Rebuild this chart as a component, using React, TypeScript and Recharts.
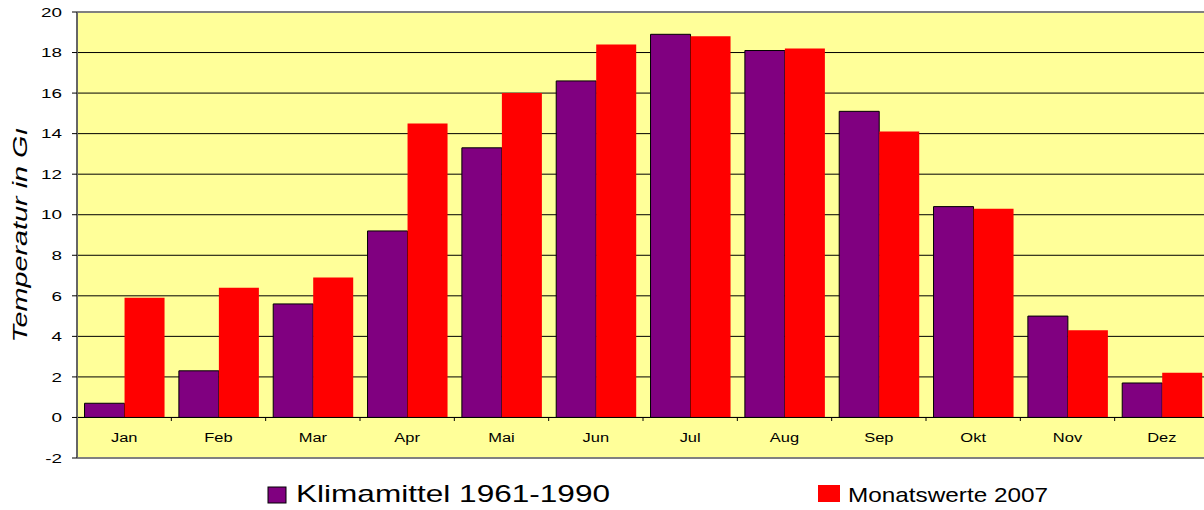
import React from 'react';
import { BarChart, Bar, XAxis, YAxis, CartesianGrid, ReferenceLine, Legend } from 'recharts';

const months = ['Jan', 'Feb', 'Mar', 'Apr', 'Mai', 'Jun', 'Jul', 'Aug', 'Sep', 'Okt', 'Nov', 'Dez'];
const klimamittel = [0.7, 2.3, 5.6, 9.2, 13.3, 16.6, 18.9, 18.1, 15.1, 10.4, 5.0, 1.7];
const monatswerte2007 = [5.9, 6.4, 6.9, 14.5, 16.0, 18.4, 18.8, 18.2, 14.1, 10.3, 4.3, 2.2];
const yTicks = [-2, 0, 2, 4, 6, 8, 10, 12, 14, 16, 18, 20];
const seriesNames = ['Klimamittel 1961-1990', 'Monatswerte 2007'];
const yLabel = 'Temperatur in Gı';

const data = months.map((m, i) => ({
  month: m,
  klima: klimamittel[i],
  monat: monatswerte2007[i],
}));

const FONT = '"Liberation Sans", Arial, Helvetica, sans-serif';

const YTick = (props: any) => {
  const { x, y, payload } = props;
  return (
    <text
      x={0}
      y={0}
      dy="0.36em"
      transform={`translate(${x},${y}) scale(1.45,1)`}
      textAnchor="end"
      fontSize={13}
      fontFamily={FONT}
      fill="#000"
    >
      {payload.value}
    </text>
  );
};

const XTick = (props: any) => {
  const { x, y, payload, index, width, visibleTicksCount } = props;
  const zeroY = y - 41;
  let off = payload && payload.offset;
  if (!off) {
    const n = visibleTicksCount || months.length;
    off = width ? width / n / 2 : 47;
  }
  return (
    <g>
      <text
        x={0}
        y={0}
        transform={`translate(${x},${y - 16}) scale(1.22,1)`}
        textAnchor="middle"
        fontSize={13.5}
        fontFamily={FONT}
        fill="#000"
      >
        {payload.value}
      </text>
      {index < months.length - 1 && (
        <line x1={x + off} x2={x + off} y1={zeroY} y2={zeroY + 4} stroke="#000" strokeWidth={1} />
      )}
    </g>
  );
};

const YLabel = (props: any) => {
  const { viewBox } = props;
  const cy = viewBox.y + viewBox.height / 2;
  const bx = 27;
  return (
    <text
      x={bx}
      y={cy}
      transform={`rotate(-90, ${bx}, ${cy})`}
      textAnchor="middle"
      fontSize={21}
      fontStyle="italic"
      fontFamily={FONT}
      fill="#000"
      textLength={215}
      lengthAdjust="spacingAndGlyphs"
    >
      {yLabel}
    </text>
  );
};

const legendLayout = [
  { boxX: 268, boxY: 17, boxW: 18, boxH: 16, textX: 296, fontSize: 24, textLength: 314, stroke: '#000' },
  { boxX: 818, boxY: 15, boxW: 22, boxH: 17, textX: 848, fontSize: 21, textLength: 200, stroke: 'none' },
];

const LegendContent = (props: any) => {
  const { payload } = props;
  return (
    <svg width={1204} height={40} style={{ display: 'block' }}>
      {(payload || []).map((entry: any, i: number) => {
        const l = legendLayout[i];
        if (!l) return null;
        return (
          <g key={i}>
            <rect x={l.boxX} y={l.boxY} width={l.boxW} height={l.boxH} fill={entry.color} stroke={l.stroke} strokeWidth={1} />
            <text
              x={l.textX}
              y={32}
              fontSize={l.fontSize}
              fontFamily={FONT}
              fill="#000"
              textLength={l.textLength}
              lengthAdjust="spacingAndGlyphs"
            >
              {entry.value}
            </text>
          </g>
        );
      })}
    </svg>
  );
};

export default function App() {
  return (
    <div style={{ position: 'absolute', left: 0, top: 0, width: 1204, height: 510, overflow: 'hidden', background: '#fff' }}>
      <BarChart
        width={1212}
        height={510}
        data={data}
        margin={{ top: 12, right: 3, bottom: 32, left: 0 }}
        barCategoryGap="8%"
        barGap={0}
      >
        <CartesianGrid vertical={false} stroke="#000" strokeWidth={1} fill="#FFFF99" fillOpacity={1} />
        <XAxis
          dataKey="month"
          height={20}
          axisLine={false}
          tickLine={false}
          tickSize={0}
          tickMargin={0}
          interval={0}
          tick={<XTick />}
        />
        <YAxis
          width={77}
          domain={[-2, 20]}
          ticks={yTicks}
          interval={0}
          allowDataOverflow
          axisLine={{ stroke: '#666', strokeWidth: 2 }}
          tickLine={{ stroke: '#000', strokeWidth: 1 }}
          tickSize={5}
          tickMargin={10}
          tick={<YTick />}
          label={<YLabel />}
        />
        <Bar dataKey="klima" name={seriesNames[0]} fill="#800080" stroke="#000" strokeWidth={1} isAnimationActive={false} />
        <Bar dataKey="monat" name={seriesNames[1]} fill="#FF0000" isAnimationActive={false} />
        <ReferenceLine y={0} stroke="#000" strokeWidth={1} />
        <ReferenceLine y={20} stroke="#808080" strokeWidth={2} />
        <ReferenceLine y={-2} stroke="#808080" strokeWidth={2} />
        <Legend
          verticalAlign="middle"
          layout="horizontal"
          wrapperStyle={{ position: 'absolute', top: 470, left: 0, width: 1204, height: 40 }}
          content={<LegendContent />}
        />
      </BarChart>
    </div>
  );
}
